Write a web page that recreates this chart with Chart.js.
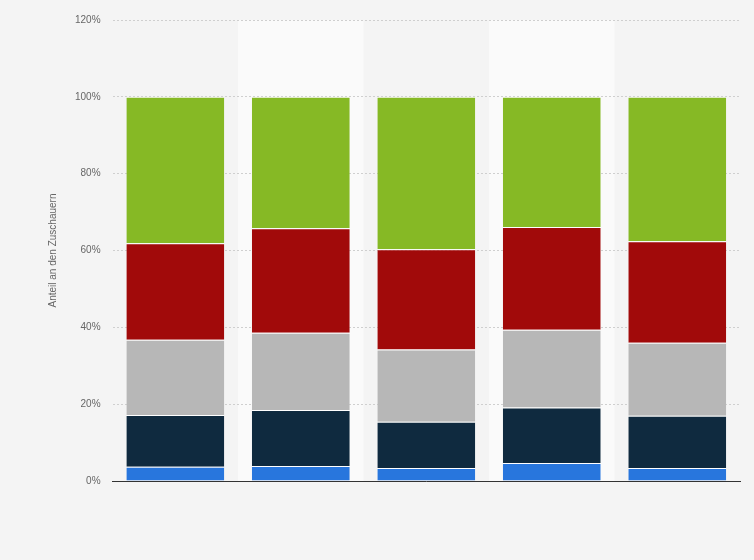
<!DOCTYPE html>
<html><head><meta charset="utf-8">
<script src="https://cdn.jsdelivr.net/npm/chart.js@4"></script>
<style>html,body{margin:0;background:#f4f4f4}#w{width:754px;height:560px}</style>
</head><body><div id="w"><canvas id="c"></canvas></div>
<script>
const categories = ["1","2","3","4","5"];
const s1 = [3.7, 3.9, 3.4, 4.7, 3.4];
const s2 = [13.5, 14.6, 12.0, 14.4, 13.6];
const s3 = [19.6, 20.1, 18.8, 20.3, 19.0];
const s4 = [25.1, 27.2, 26.1, 26.7, 26.4];
const s5 = [38.1, 34.2, 39.7, 33.9, 37.6];
const colors = ["#2876dd","#0f2a3f","#b7b7b7","#a10a0a","#86b925"];
const bands = {id:'bands',beforeDraw(ch){const {ctx,chartArea:a,scales:{x}}=ch;ctx.save();
 categories.forEach((c,i)=>{if(i%2===1){const w=(x.getPixelForValue(1)-x.getPixelForValue(0));const cx=x.getPixelForValue(i);ctx.fillStyle='#fafafa';ctx.fillRect(cx-w/2,a.top,w,a.bottom-a.top);}});ctx.restore();}};
new Chart(document.getElementById('c'),{type:'bar',
 data:{labels:categories,datasets:[s1,s2,s3,s4,s5].map((d,i)=>({data:d,backgroundColor:colors[i],borderColor:'#ffffff',borderWidth:{top:1},borderSkipped:false,categoryPercentage:1,barPercentage:0.78}))},
 options:{responsive:true,maintainAspectRatio:false,animation:false,
  layout:{padding:{left:43,right:14,top:20,bottom:71}},
  plugins:{legend:{display:false},tooltip:{enabled:false}},
  scales:{x:{stacked:true,grid:{display:false},border:{color:'#333'},ticks:{display:false}},
   y:{stacked:true,min:0,max:120,ticks:{stepSize:20,callback:v=>v+'%',color:'#666',font:{family:'Arial',size:10},padding:12},
    grid:{color:'#cfcfcf',drawTicks:false},border:{display:false,dash:[2,2]},
    title:{display:true,text:'Anteil an den Zuschauern',color:'#666',font:{family:'Arial',size:10}}}}},
 plugins:[bands]});
</script></body></html>
